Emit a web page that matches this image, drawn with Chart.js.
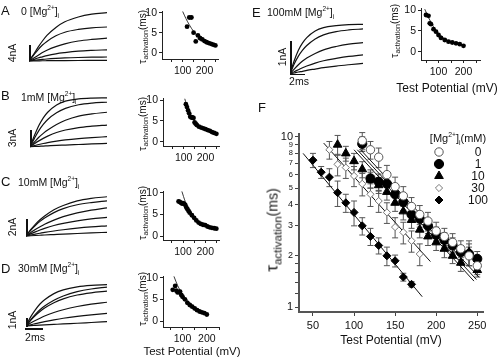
<!DOCTYPE html>
<html><head><meta charset="utf-8">
<script src="https://cdn.jsdelivr.net/npm/chart.js@4.4.1/dist/chart.umd.min.js"></script>
<style>
html,body{margin:0;padding:0;background:#fff}
body{width:500px;height:358px;position:relative;overflow:hidden;font-family:"Liberation Sans",Arial,Helvetica,sans-serif;color:#111}
canvas{position:absolute;left:0;top:0}
.t{position:absolute;white-space:nowrap;line-height:1}
.bar{position:absolute;background:#111}
.t sup,.t sub{font-size:0.62em;line-height:0}
</style></head><body>
<script>
// ================= DATA =================
// current traces (time in ms, current in nA)
const traceTime = [0,0.5,1,1.5,2,3,4,5.5,7,8.7];
const tracesA = [
  [0,1.6,3.4,5.0,6.4,8.4,9.8,11.0,11.7,12.1],
  [0,1.4,2.8,4.0,4.9,6.3,7.2,7.9,8.3,8.5],
  [0,0.7,1.4,2.1,2.7,3.6,4.3,5.0,5.4,5.7],
  [0,0.35,0.75,1.05,1.35,1.8,2.1,2.45,2.65,2.8],
  [0,0.14,0.28,0.4,0.5,0.65,0.77,0.88,0.95,1.0],
  [0,0.02,0.04,0.06,0.07,0.09,0.11,0.13,0.14,0.15]
];
const tracesB = [
  [0,2.0,3.8,5.2,6.2,7.5,8.2,8.6,8.75,8.8],
  [0,1.5,2.9,4.0,4.9,6.1,6.9,7.55,7.85,8.0],
  [0,0.85,1.7,2.4,3.0,4.0,4.75,5.5,5.9,6.2],
  [0,0.55,1.05,1.5,1.9,2.55,3.0,3.45,3.7,3.9],
  [0,0.2,0.4,0.58,0.74,1.0,1.22,1.46,1.64,1.8],
  [0,0.04,0.08,0.12,0.16,0.24,0.3,0.4,0.5,0.6]
];
const tracesC = [
  [0,0.75,1.4,1.95,2.4,3.15,3.65,4.2,4.5,4.7],
  [0,0.68,1.25,1.75,2.15,2.8,3.28,3.74,4.0,4.2],
  [0,0.4,0.78,1.1,1.4,1.9,2.32,2.77,3.1,3.38],
  [0,0.26,0.5,0.72,0.92,1.26,1.52,1.82,2.04,2.22],
  [0,0.12,0.23,0.33,0.43,0.6,0.75,0.94,1.09,1.22],
  [0,0.03,0.06,0.09,0.12,0.17,0.22,0.3,0.37,0.44]
];
const tracesD = [
  [0,1.1,1.95,2.65,3.15,3.9,4.35,4.72,4.9,4.98],
  [0,0.75,1.4,1.95,2.4,3.1,3.62,4.14,4.46,4.68],
  [0,0.68,1.25,1.74,2.16,2.8,3.27,3.73,4.0,4.2],
  [0,0.35,0.66,0.94,1.2,1.62,1.96,2.35,2.63,2.86],
  [0,0.15,0.28,0.41,0.53,0.74,0.93,1.16,1.35,1.53],
  [0,0.04,0.07,0.1,0.13,0.19,0.25,0.33,0.42,0.52]
];
const tracesE = [
  [0,0.4,0.72,0.94,1.1,1.3,1.4,1.46,1.49,1.5],
  [0,0.3,0.54,0.72,0.86,1.06,1.18,1.28,1.33,1.36],
  [0,0.15,0.28,0.39,0.48,0.62,0.73,0.83,0.9,0.95],
  [0,0.07,0.13,0.19,0.24,0.33,0.4,0.47,0.53,0.58],
  [0,0.03,0.06,0.08,0.11,0.15,0.19,0.24,0.28,0.32]
];

// tau activation vs test potential, single panels
const tauA_mV = [120,130,140,150,160,170,180,190,200,210,220,230,240,250];
const tauA_ms = [6.5,8.8,8.8,5.0,2.8,4.3,3.6,3.3,2.9,2.6,2.4,2.2,2.0,1.8];
const fitA_mV = [100,115,130,150,170,190,210,230,255];
const fitA_ms = [10.3,8.5,7.0,5.3,4.0,3.1,2.5,2.1,1.75];

const tauB_mV = [110,115,120,125,130,135,140,145,150,155,160,170,180,190,200,210,220,230,240,250];
const tauB_ms = [9.0,8.3,7.5,6.8,6.0,5.8,5.8,5.7,4.6,4.3,4.0,3.6,3.4,3.2,3.0,2.8,2.6,2.3,2.1,1.9];
const fitB_mV = [105,120,140,160,180,200,225,250];
const fitB_ms = [10.3,7.6,5.6,4.3,3.4,2.8,2.2,1.8];

const tauC_mV = [80,85,90,95,100,105,110,115,120,125,130,140,150,160,170,180,190,200,210,220,230,240,250];
const tauC_ms = [8.0,7.9,7.7,7.5,7.6,7.4,7.2,6.6,6.2,5.8,5.4,4.8,4.2,3.6,3.1,2.8,2.6,2.5,2.2,2.0,1.9,1.8,1.7];
const fitC_mV = [95,110,130,150,170,190,220,250];
const fitC_ms = [10.3,8.0,6.0,4.5,3.4,2.7,2.1,1.7];

const tauD_mV = [60,70,75,80,85,90,95,100,110,120,130,140,150,160,170,180,190,200];
const tauD_ms = [7.2,8.1,7.0,6.6,6.7,6.8,6.0,5.6,5.0,4.2,3.7,3.3,2.9,2.5,2.2,2.0,1.8,1.5];
const fitD_mV = [65,80,100,120,140,160,180,200];
const fitD_ms = [10.3,8.2,6.2,4.8,3.7,2.9,2.2,1.7];

const tauE_mV = [50,60,65,70,80,90,100,110,125,140,155,170,185,200];
const tauE_ms = [8.8,8.6,6.8,6.6,5.4,4.8,4.0,3.3,2.8,2.4,2.2,2.0,1.8,1.4];
const fitE_mV = [45,60,80,100,120,140,170,200];
const fitE_ms = [10.2,8.2,6.0,4.4,3.3,2.6,1.9,1.4];

// panel F: mean tau (ms) +/- error, per [Mg2+]i
const mgLevels = ['0','1','10','30','100'];
const mg0_mV  = [110,120,130,140,150,160,170,180,190,200,210,220,230,240,250];
const mg0_ms  = [9.5,8.4,7.6,6.0,5.1,4.5,3.9,3.5,3.2,2.8,2.6,2.4,2.2,2.0,1.75];
const mg0_err = [1.1,1.0,1.0,0.8,0.7,0.6,0.5,0.45,0.4,0.35,0.3,0.3,0.25,0.25,0.2];
const mg1_mV  = [110,120,130,140,150,160,170,180,190,200,210,220,230,240,250];
const mg1_ms  = [9.1,5.7,5.45,5.3,4.6,4.15,3.5,3.3,3.0,2.65,2.48,2.3,2.1,2.05,1.92];
const mg1_err = [0.9,0.7,0.6,0.6,0.5,0.45,0.35,0.35,0.3,0.3,0.25,0.25,0.2,0.3,0.2];
const mg10_mV  = [80,90,100,110,120,130,140,150,160,170,180,190,200,210,220,230,240,250];
const mg10_ms  = [9.0,8.0,7.2,6.45,5.6,5.2,4.75,4.1,3.65,3.25,2.85,2.6,2.4,2.2,2.0,1.82,2.1,1.65];
const mg10_err = [1.2,0.8,0.8,0.7,0.6,0.55,0.5,0.45,0.4,0.35,0.3,0.3,0.25,0.25,0.2,0.2,0.35,0.15];
const mg30_mV  = [70,80,90,100,110,120,130,140,150,160,170,180];
const mg30_ms  = [8.4,6.9,6.6,5.9,5.3,4.6,4.2,3.6,2.95,2.75,2.45,2.05];
const mg30_err = [1.0,1.0,0.9,0.8,0.8,0.7,0.6,0.5,0.4,0.4,0.35,0.3];
const mg100_mV  = [50,60,70,80,90,100,110,120,130,140,150,160,170];
const mg100_ms  = [7.3,6.2,5.8,4.7,4.1,3.6,3.0,2.6,2.3,2.0,1.87,1.5,1.36];
const mg100_err = [0.7,0.5,0.7,0.8,0.5,0.6,0.35,0.3,0.25,0.25,0.15,0.08,0.05];
// exponential fits (straight lines on log axis), end points
const fit0_mV = [108,252],  fit0_ms = [8.4,1.5];
const fit1_mV = [104,249],  fit1_ms = [8.4,1.45];
const fit10_mV = [100,246], fit10_ms = [8.4,1.42];
const fit30_mV = [63,193],  fit30_ms = [9.2,1.85];
const fit100_mV = [38,183], fit100_ms = [8.0,1.15];

// tick values / labels
const tauXTicks = [50,100,150,200,250];
const tauXLabels = [100,200];
const tauYTicks = [0,5,10];
const fXTicks = [50,100,150,200,250];
const fYTicks = [1,1.2,1.4,1.6,1.8,2,3,4,5,6,7,8,9,10];
const fYLabels = [1,2,3,4,5,6,7,8,9,10];

// ================= HELPERS =================
const FAM = '"Liberation Sans", Arial, Helvetica, sans-serif';
Chart.defaults.font.family = FAM;
Chart.defaults.color = '#111';
const pts = (xs, ys) => xs.map((x,i)=>({x:x, y:ys[i]}));

function txt(html, x, y, size, anchor, rot){
  const d=document.createElement('div'); d.className='t'; d.innerHTML=html;
  d.style.fontSize=size+'px'; d.style.left=x+'px'; d.style.top=y+'px';
  const tx = anchor==='c'?'-50%':(anchor==='r'?'-100%':'0');
  d.style.transform='translate('+tx+',-50%)'+(rot?' rotate('+rot+'deg)':'');
  document.body.appendChild(d);
}
function bar(x,y,w,h){const d=document.createElement('div');d.className='bar';
  d.style.left=x+'px';d.style.top=y+'px';d.style.width=w+'px';d.style.height=h+'px';document.body.appendChild(d);}

function mk(area, yW, xH, cfg){
  const c=document.createElement('canvas'); c.width=500; c.height=358;
  document.body.appendChild(c);
  cfg.options = cfg.options || {};
  Object.assign(cfg.options, {responsive:false, animation:false, devicePixelRatio:1,
    events:[],
    layout:{padding:{left:area.l-yW, top:area.t, right:500-area.r, bottom:358-area.b-xH}}});
  cfg.options.plugins = Object.assign({legend:{display:false}, tooltip:{enabled:false}}, cfg.options.plugins||{});
  return new Chart(c, cfg);
}

function traceChart(area, traces, yr){
  return mk(area,0,0,{type:'line',
    data:{datasets:traces.map(tr=>({data:pts(traceTime,tr), borderColor:'#111', borderWidth:1.2,
      pointRadius:0, cubicInterpolationMode:'monotone', fill:false}))},
    options:{scales:{x:{type:'linear',display:false,min:0,max:8.7},
                     y:{display:false,min:yr[0],max:yr[1]}}}});
}

const axGrid = {drawOnChartArea:false, drawTicks:true, tickLength:3, color:'#222', lineWidth:1};
const axBorder = {display:true, color:'#222', width:1};
function tauChart(area, xs, ys, fx, fy, xr, yr){
  const yW=22, xH=20;
  return mk(area,yW,xH,{type:'scatter',
    data:{datasets:[
      {data:pts(xs,ys), pointStyle:'circle', pointRadius:2.4, backgroundColor:'#000', borderColor:'#000', borderWidth:0, clip:false},
      {type:'line', data:pts(fx,fy), borderColor:'#222', borderWidth:0.9, pointRadius:0, cubicInterpolationMode:'monotone', fill:false, clip:false}
    ]},
    options:{scales:{
      x:{type:'linear', min:xr[0], max:xr[1],
         afterBuildTicks:s=>{s.ticks=tauXTicks.filter(v=>v>=xr[0]&&v<=xr[1]).map(v=>({value:v}));},
         ticks:{autoSkip:false, maxRotation:0, padding:3, font:{size:10.5}, color:'#111',
                callback:v=>tauXLabels.includes(v)?String(v):''},
         grid:axGrid, border:axBorder, afterFit:s=>{s.height=xH;}},
      y:{type:'linear', min:yr[0], max:yr[1],
         afterBuildTicks:s=>{s.ticks=tauYTicks.map(v=>({value:v}));},
         ticks:{padding:2, font:{size:10.5}, color:'#111', callback:v=>String(v)},
         grid:axGrid, border:axBorder, afterFit:s=>{s.width=yW;}}
    }}});
}

// ================= TRACE PANELS =================
traceChart({l:29,t:10,r:107,b:62}, tracesA, [-0.25,12.75]);
traceChart({l:30,t:95,r:107,b:148}, tracesB, [-0.23,9.3]);
traceChart({l:26,t:190,r:107,b:237}, tracesC, [-0.12,5.51]);
traceChart({l:26,t:280,r:107,b:327}, tracesD, [-0.12,5.54]);
traceChart({l:290,t:22,r:363,b:75}, tracesE, [-0.03,1.57]);

// ================= TAU PANELS =================
tauChart({l:162,t:11.5,r:218,b:59}, tauA_mV, tauA_ms, fitA_mV, fitA_ms, [5,262], [-1.6,10.3]);
tauChart({l:163,t:98.5,r:219,b:146}, tauB_mV, tauB_ms, fitB_mV, fitB_ms, [5,262], [-1.03,10.36]);
tauChart({l:163,t:191,r:219,b:240}, tauC_mV, tauC_ms, fitC_mV, fitC_ms, [10,262], [-0.92,10.4]);
tauChart({l:163,t:276,r:219,b:327}, tauD_mV, tauD_ms, fitD_mV, fitD_ms, [20,250], [-1.38,10.39]);
tauChart({l:421,t:8.5,r:480,b:60}, tauE_mV, tauE_ms, fitE_mV, fitE_ms, [30,266], [-2.0,10.36]);

// ================= PANEL F =================
const errPlugin = {id:'errbars', beforeDatasetsDraw(chart){
  const ctx=chart.ctx, ys=chart.scales.y;
  chart.data.datasets.forEach((ds,i)=>{
    if(!ds.err) return;
    const meta=chart.getDatasetMeta(i);
    meta.data.forEach((p,j)=>{
      const v=ds.data[j].y, e=ds.err[j];
      const y1=ys.getPixelForValue(v+e), y2=ys.getPixelForValue(Math.max(v-e,0.05));
      ctx.save(); ctx.strokeStyle='#555'; ctx.lineWidth=1; ctx.beginPath();
      ctx.moveTo(p.x,y1); ctx.lineTo(p.x,y2);
      ctx.moveTo(p.x-3,y1); ctx.lineTo(p.x+3,y1);
      ctx.moveTo(p.x-3,y2); ctx.lineTo(p.x+3,y2);
      ctx.stroke(); ctx.restore();
    });
  });
}};
const legendPlugin = {id:'mglegend', afterDraw(chart){
  const ctx=chart.ctx, a=chart.chartArea;
  let k=0;
  chart.data.datasets.forEach(ds=>{
    if(ds.legendText===undefined) return;
    const y=a.top+18+12*k, x=a.right-44;
    ctx.save();
    ctx.fillStyle=ds.backgroundColor; ctx.strokeStyle=ds.borderColor; ctx.lineWidth=ds.borderWidth;
    Chart.helpers.drawPoint(ctx,{pointStyle:ds.pointStyle, radius:ds.pointRadius, rotation:0, borderWidth:ds.borderWidth}, x, y);
    ctx.fillStyle='#111'; ctx.font='12px '+FAM; ctx.textAlign='center'; ctx.textBaseline='middle';
    ctx.fillText(ds.legendText, a.right-5, y+1);
    ctx.restore(); k++;
  });
}};
const fitDs = (xs,ys)=>({type:'line', data:pts(xs,ys), borderColor:'#111', borderWidth:1, pointRadius:0, fill:false, clip:false});
mk({l:299,t:134,r:483,b:312}, 24, 24, {type:'scatter',
  data:{datasets:[
    {data:pts(mg0_mV,mg0_ms), err:mg0_err, legendText:mgLevels[0], pointStyle:'circle', pointRadius:4.2, backgroundColor:'#fff', borderColor:'#555', borderWidth:1, clip:false},
    {data:pts(mg1_mV,mg1_ms), err:mg1_err, legendText:mgLevels[1], pointStyle:'circle', pointRadius:4.6, backgroundColor:'#000', borderColor:'#000', borderWidth:1, clip:false},
    {data:pts(mg10_mV,mg10_ms), err:mg10_err, legendText:mgLevels[2], pointStyle:'triangle', pointRadius:5, backgroundColor:'#000', borderColor:'#000', borderWidth:1, clip:false},
    {data:pts(mg30_mV,mg30_ms), err:mg30_err, legendText:mgLevels[3], pointStyle:'rectRot', pointRadius:3.6, backgroundColor:'#fff', borderColor:'#777', borderWidth:1, clip:false},
    {data:pts(mg100_mV,mg100_ms), err:mg100_err, legendText:mgLevels[4], pointStyle:'rectRot', pointRadius:4, backgroundColor:'#000', borderColor:'#000', borderWidth:1, clip:false},
    fitDs(fit0_mV,fit0_ms), fitDs(fit1_mV,fit1_ms), fitDs(fit10_mV,fit10_ms), fitDs(fit30_mV,fit30_ms), fitDs(fit100_mV,fit100_ms)
  ]},
  options:{scales:{
    x:{type:'linear', min:33, max:257,
       afterBuildTicks:s=>{s.ticks=fXTicks.map(v=>({value:v}));},
       ticks:{autoSkip:false, maxRotation:0, padding:3, font:{size:11}, color:'#111'},
       grid:{drawOnChartArea:false, drawTicks:true, tickLength:4, color:'#444', lineWidth:1},
       border:{display:true, color:'#555', width:2}, afterFit:s=>{s.height=24;}},
    y:{type:'logarithmic', min:0.935, max:10.4,
       afterBuildTicks:s=>{s.ticks=fYTicks.map(v=>({value:v}));},
       ticks:{autoSkip:false, padding:2, color:'#111',
              font:c=>{const v=c.tick&&c.tick.value; return {size:(v===1||v===10)?11:(v>=5?7.5:9)};},
              callback:v=>fYLabels.includes(v)?String(v):''},
       grid:{drawOnChartArea:false, drawTicks:true, tickLength:4, color:'#444', lineWidth:1},
       border:{display:true, color:'#555', width:2}, afterFit:s=>{s.width=24;}}
  }},
  plugins:[errPlugin, legendPlugin]});

// ================= TEXT & SCALE BARS =================
txt('A',1,10,13,'l'); txt('0 [Mg<sup>2+</sup>]<sub>i</sub>',21,11,10.5,'l');
txt('B',1,95,13,'l'); txt('1mM [Mg<sup>2+</sup>]<sub>i</sub>',21,97,10.5,'l');
txt('C',1,181,13,'l'); txt('10mM [Mg<sup>2+</sup>]<sub>i</sub>',18,182,10.5,'l');
txt('D',1,268,13,'l'); txt('30mM [Mg<sup>2+</sup>]<sub>i</sub>',18,268,10.5,'l');
txt('E',252,12,13,'l'); txt('100mM [Mg<sup>2+</sup>]<sub>i</sub>',267,12,10.5,'l');
txt('F',258,107,13,'l');

// scale bars
bar(29,45,1.5,16); txt('4nA',12,53,10.5,'c',-90);
bar(30,130,1.5,17); txt('3nA',12,138,10.5,'c',-90);
bar(26,219,1.5,17); txt('2nA',12,227,10.5,'c',-90);
bar(26,318,1.5,9); bar(25,328,18,1.5); txt('1nA',12,320,10.5,'c',-90); txt('2ms',35,337,10.5,'c');
bar(290,41,1.5,33); bar(290,73.5,15,1.5); txt('1nA',282,57,10.5,'c',-90); txt('2ms',299,81,10.5,'c');

// axis titles
const tauTitle = (s1,s2,s3)=>'<span style="font-size:'+s1+'px">τ</span><span style="font-size:'+s2+'px;position:relative;top:0.35em">activation</span><span style="font-size:'+s3+'px">(ms)</span>';
txt(tauTitle(11,7,10),142,37,10,'c',-90);
txt(tauTitle(11,7,10),142,124,10,'c',-90);
txt(tauTitle(11,7,10),142,213,10,'c',-90);
txt(tauTitle(11,7,10),142,299,10,'c',-90);
txt(tauTitle(11,7,10),394,31,10,'c',-90);
txt(tauTitle(17,11.5,14),272,230,13,'c',-90);
txt('Test Potential (mV)',192,352,11.5,'c');
txt('Test Potential (mV)',447,88,12,'c');
txt('Test Potential (mV)',391,340,12,'c');
txt('[Mg<sup>2+</sup>]<sub>i</sub>(mM)',458,138,11,'c');
</script>
</body></html>
